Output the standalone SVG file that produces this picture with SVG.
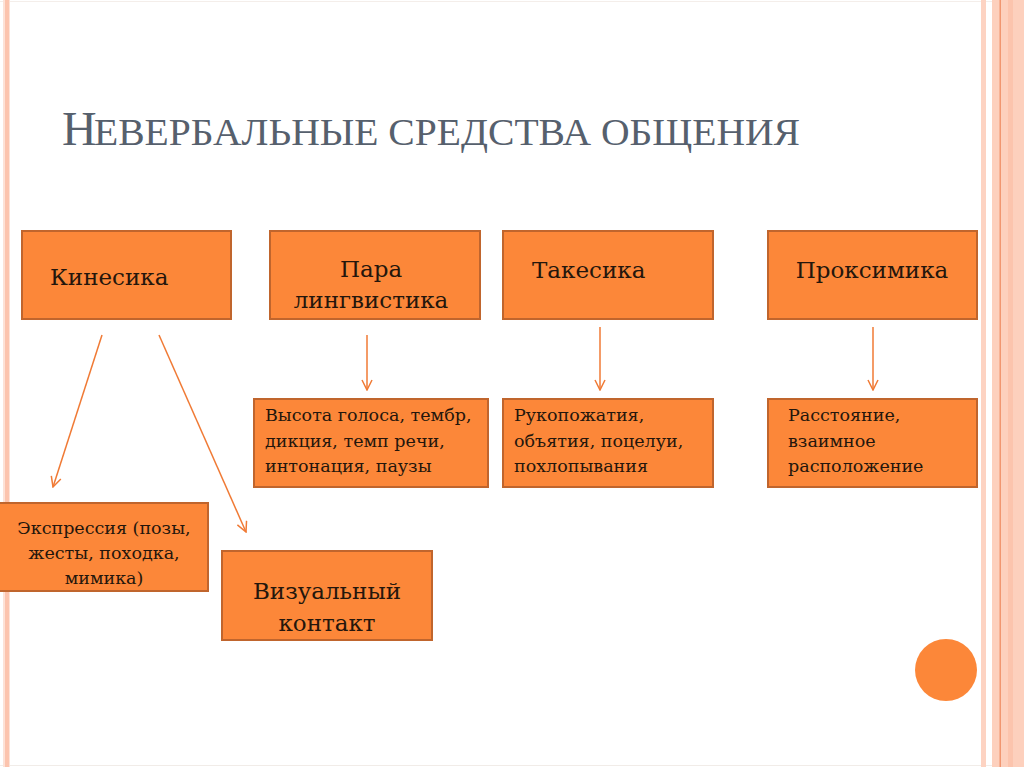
<svg xmlns="http://www.w3.org/2000/svg" width="1024" height="767" viewBox="0 0 1024 767">
  <defs>
    <style>
      .box { fill: #fc8739; stroke: #c0652d; stroke-width: 2; }
      .t { font-family: "DejaVu Serif", "Liberation Serif", serif; fill: #24160c; }
      .big { font-size: 23px; }
      .small { font-size: 17.5px; }
      .conn { stroke: #f07a35; stroke-width: 1.5; fill: none; marker-end: url(#arr); }
      .title { font-family: "Liberation Serif", serif; fill: #56606d; }
    </style>
    <marker id="arr" viewBox="0 0 12 12" refX="11" refY="6" markerWidth="12" markerHeight="12" markerUnits="userSpaceOnUse" orient="auto">
      <path d="M1,1 L11,6 L1,11" fill="none" stroke="#f07a35" stroke-width="1.5"/>
    </marker>
  </defs>
  <rect x="0" y="0" width="1024" height="767" fill="#ffffff"/>
  <g id="frame">
    <line x1="0" y1="1.5" x2="1024" y2="1.5" stroke="#f4eeea" stroke-width="1"/>
    <line x1="0" y1="765.5" x2="1024" y2="765.5" stroke="#f1ece8" stroke-width="1"/>
    <rect x="3" y="0" width="7" height="767" fill="#fde2d7"/>
    <rect x="5" y="0" width="4" height="767" fill="#fcc4ae"/>
    <rect x="981" y="0" width="5" height="767" fill="#fdd3c2"/>
    <rect x="992" y="0" width="32" height="767" fill="#fdd0bd"/>
    <rect x="999.5" y="0" width="1.5" height="767" fill="#f19670"/>
    <rect x="1008" y="0" width="5" height="767" fill="#fcc4ad"/>
  </g>
  <g id="title">
    <text class="title" x="62" y="145" font-size="48">Н</text>
    <text class="title" x="94" y="145" font-size="38" textLength="706" lengthAdjust="spacingAndGlyphs">ЕВЕРБАЛЬНЫЕ СРЕДСТВА ОБЩЕНИЯ</text>
  </g>
  <g id="connectors">
    <line class="conn" x1="102" y1="335" x2="53" y2="487"/>
    <line class="conn" x1="159" y1="335" x2="246" y2="532"/>
    <line class="conn" x1="367" y1="335" x2="367" y2="390"/>
    <line class="conn" x1="600" y1="327" x2="600" y2="390"/>
    <line class="conn" x1="873" y1="327" x2="873" y2="390"/>
  </g>
  <g id="kinesika">
    <rect class="box" x="22" y="231" width="209" height="88"/>
    <text class="t big" x="50" y="285">Кинесика</text>
  </g>
  <g id="paraling">
    <rect class="box" x="270" y="231" width="210" height="88"/>
    <text class="t big" x="371" y="277" text-anchor="middle">Пара</text>
    <text class="t big" x="371" y="308" text-anchor="middle">лингвистика</text>
  </g>
  <g id="takesika">
    <rect class="box" x="503" y="231" width="210" height="88"/>
    <text class="t big" x="532" y="278">Такесика</text>
  </g>
  <g id="proksimika">
    <rect class="box" x="768" y="231" width="209" height="88"/>
    <text class="t big" x="872" y="278" text-anchor="middle">Проксимика</text>
  </g>
  <g id="vysota">
    <rect class="box" x="254" y="399" width="234" height="88"/>
    <text class="t small" x="265" y="421">Высота голоса, тембр,</text>
    <text class="t small" x="265" y="447">дикция, темп речи,</text>
    <text class="t small" x="265" y="472">интонация, паузы</text>
  </g>
  <g id="rukopozh">
    <rect class="box" x="503" y="399" width="210" height="88"/>
    <text class="t small" x="514" y="421">Рукопожатия,</text>
    <text class="t small" x="514" y="447">объятия, поцелуи,</text>
    <text class="t small" x="514" y="472">похлопывания</text>
  </g>
  <g id="rasstoyanie">
    <rect class="box" x="768" y="399" width="209" height="88"/>
    <text class="t small" x="788" y="421">Расстояние,</text>
    <text class="t small" x="788" y="447">взаимное</text>
    <text class="t small" x="788" y="472">расположение</text>
  </g>
  <g id="ekspressiya">
    <rect class="box" x="-1" y="503" width="209" height="88"/>
    <text class="t small" x="104" y="534" text-anchor="middle">Экспрессия (позы,</text>
    <text class="t small" x="104" y="559" text-anchor="middle">жесты, походка,</text>
    <text class="t small" x="104" y="584" text-anchor="middle">мимика)</text>
  </g>
  <g id="vizual">
    <rect class="box" x="222" y="551" width="210" height="89"/>
    <text class="t big" x="327" y="599" text-anchor="middle">Визуальный</text>
    <text class="t big" x="327" y="631" text-anchor="middle">контакт</text>
  </g>
  <g id="circle">
    <circle cx="946" cy="670" r="31" fill="#fc8739"/>
  </g>
</svg>
